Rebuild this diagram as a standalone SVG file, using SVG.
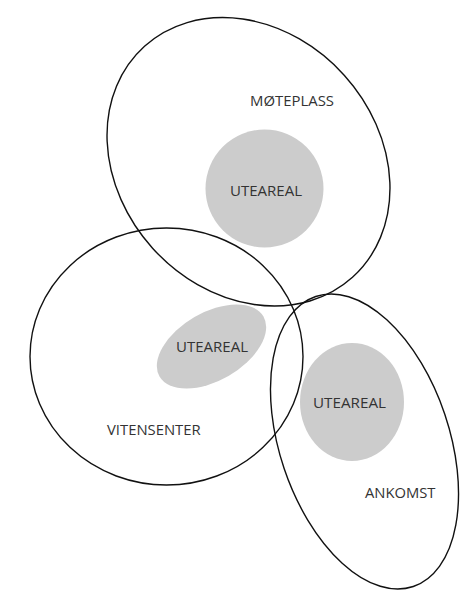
<svg xmlns="http://www.w3.org/2000/svg" width="469" height="595" viewBox="0 0 469 595">
<style>
.zone{fill:none;stroke:#111;stroke-width:1.4}
.ute{fill:#cccccc;stroke:none}
.lbl{font-family:"Open Sans","Noto Sans","Liberation Sans",sans-serif;font-size:15px;fill:#333}
</style>
<rect width="469" height="595" fill="#fff"/>
<g id="uteareal-moteplass"><circle class="ute" cx="264.5" cy="188.5" r="59"/><text class="lbl" x="230" y="195.7" textLength="72" lengthAdjust="spacingAndGlyphs">UTEAREAL</text></g>
<g id="uteareal-vitensenter"><ellipse class="ute" cx="0" cy="0" rx="60" ry="34" transform="translate(211.5 346.5) rotate(-30)"/><text class="lbl" x="176" y="351.7" textLength="72" lengthAdjust="spacingAndGlyphs">UTEAREAL</text></g>
<g id="uteareal-ankomst"><ellipse class="ute" cx="352" cy="402" rx="52" ry="59"/><text class="lbl" x="313" y="408.3" textLength="73" lengthAdjust="spacingAndGlyphs">UTEAREAL</text></g>
<g id="moteplass"><ellipse class="zone" cx="0" cy="0" rx="155.4" ry="129.1" transform="translate(248.5 161.8) rotate(48)"/><text class="lbl" x="250" y="106" textLength="84" lengthAdjust="spacingAndGlyphs">MØTEPLASS</text></g>
<g id="vitensenter"><ellipse class="zone" cx="166.5" cy="356.5" rx="136.5" ry="128.5"/><text class="lbl" x="107" y="435" textLength="93.7" lengthAdjust="spacingAndGlyphs">VITENSENTER</text></g>
<g id="ankomst"><ellipse class="zone" cx="0" cy="0" rx="153" ry="84.8" transform="translate(364.5 441.5) rotate(71.4)"/><text class="lbl" x="365" y="497.5" textLength="70.5" lengthAdjust="spacingAndGlyphs">ANKOMST</text></g>
<g id="connectors"/>
</svg>
